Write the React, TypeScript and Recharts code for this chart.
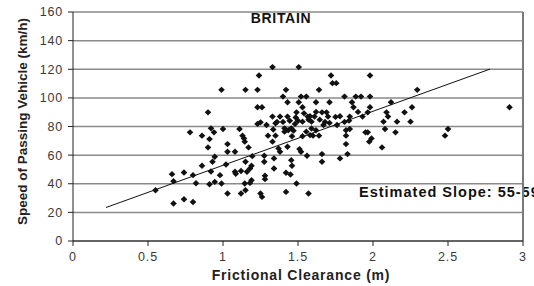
import { ScatterChart, Scatter, XAxis, YAxis, CartesianGrid, ReferenceLine } from 'recharts';

// readings: clearance (m) and speed (km/h), same order
const clearanceM = [
  0.55, 0.66, 0.67, 0.67, 0.74, 0.74, 0.8, 0.8, 0.82, 0.78,
  0.86, 0.86, 0.9, 0.9, 0.91, 0.92, 0.94, 0.945, 0.93, 0.92,
  0.91, 0.945, 0.98, 0.99, 0.99, 1.0, 1.02, 1.03, 1.03, 1.03,
  1.08, 1.08, 1.11, 1.12, 1.13, 1.14, 1.145, 1.15, 1.15, 1.145,
  1.15, 1.16, 1.17, 1.18, 1.19, 1.195, 1.19, 1.18, 1.23, 1.24,
  1.23, 1.26, 1.23, 1.25, 1.25, 1.26, 1.275, 1.275, 1.28, 1.28,
  1.29, 1.3, 1.33, 1.33, 1.33, 1.34, 1.34, 1.35, 1.37, 1.38,
  1.35, 1.38, 1.4, 1.42, 1.41, 1.41, 1.42, 1.42, 1.43, 1.43,
  1.43, 1.45, 1.455, 1.455, 1.46, 1.47, 1.48, 1.49, 1.49, 1.505,
  1.505, 1.51, 1.52, 1.52, 1.53, 1.53, 1.54, 1.555, 1.555, 1.56,
  1.57, 1.565, 1.59, 1.6, 1.61, 1.62, 1.64, 1.64, 1.66, 1.66,
  1.66, 1.67, 1.69, 1.7, 1.71, 1.72, 1.73, 1.755, 1.76, 1.78,
  1.81, 1.82, 1.82, 1.83, 1.84, 1.845, 1.845, 1.86, 1.87, 1.885,
  1.92, 1.93, 1.95, 1.965, 1.965, 1.98, 1.98, 1.98, 1.975, 1.99,
  2.06, 2.07, 2.08, 2.09, 2.1, 2.12, 2.15, 2.16, 2.21, 2.25,
  2.26, 2.295, 2.48, 2.5, 2.91,
  1.485, 1.58, 1.62, 1.75, 1.78, 1.9,
  1.36, 1.4, 1.445, 1.5, 1.57, 1.645, 1.68, 1.71, 1.81,
  1.335, 1.435, 1.59, 1.62, 1.82,
  1.46, 1.53, 1.58, 1.12, 1.085,
];

const speedKmh = [
  35.5, 46.7, 41.8, 26.2, 29.2, 47.9, 27.3, 46.0, 40.4, 75.9,
  73.6, 52.6, 89.9, 65.4, 71.2, 78.7, 75.9, 58.9, 55.4, 48.6,
  39.7, 41.3, 46.0, 40.2, 105.6, 78.3, 53.5, 67.7, 62.4, 33.2,
  62.4, 48.4, 78.3, 33.2, 73.6, 71.7, 69.4, 105.6, 55.4, 40.2,
  35.5, 48.4, 65.4, 50.7, 52.6, 59.3, 42.5, 40.6, 105.6, 115.6,
  93.4, 93.4, 81.8, 82.9, 33.2, 30.8, 59.6, 55.4, 45.6, 43.2,
  81.1, 73.6, 86.9, 121.5, 69.4, 57.7, 50.7, 73.6, 64.7, 62.4,
  82.2, 86.9, 100.9, 105.6, 78.7, 76.4, 34.3, 47.7, 86.9, 96.9,
  65.9, 46.5, 78.7, 56.5, 52.6, 77.1, 81.8, 89.9, 40.2, 121.5,
  96.9, 64.2, 62.4, 100.9, 93.4, 83.4, 89.2, 100.9, 76.4, 59.6,
  33.2, 86.9, 83.4, 73.6, 86.9, 96.9, 73.6, 105.6, 89.9, 55.4,
  60.7, 81.1, 89.9, 86.9, 96.9, 115.6, 110.3, 110.3, 81.1, 57.7,
  100.9, 73.6, 67.7, 60.7, 84.1, 86.9, 78.3, 96.9, 93.4, 100.9,
  100.9, 86.9, 75.9, 75.9, 89.9, 115.6, 100.9, 93.4, 69.4, 71.7,
  65.4, 83.4, 78.3, 89.9, 86.9, 96.9, 75.9, 83.4, 89.9, 83.4,
  93.4, 105.6, 73.6, 78.3, 93.4,
  86.3, 87.2, 90.2, 86.7, 87.2, 90.2,
  83.2, 83.2, 84.0, 84.0, 84.8, 84.8, 83.2, 82.5, 83.2,
  77.9, 77.4, 78.6, 77.4, 77.4,
  73.2, 73.2, 74.0, 48.9, 47.0,
];

// fitted line, end points
const trendX = [0.22, 2.78];
const trendY = [23.4, 120.1];

const xTicks = [0, 0.5, 1, 1.5, 2, 2.5, 3];
const yTicks = [0, 20, 40, 60, 80, 100, 120, 140, 160];

const points = clearanceM.map((x, i) => ({ x, y: speedKmh[i] }));
const trend = trendX.map((x, i) => ({ x, y: trendY[i] }));

const FONT = '"Liberation Sans", Arial, sans-serif';

function Diamond(props: any) {
  const { cx, cy } = props;
  if (cx == null || cy == null) return <g />;
  return (
    <polygon
      points={`${cx},${cy - 3.2} ${cx + 3.3},${cy} ${cx},${cy + 3.2} ${cx - 3.3},${cy}`}
      fill="#111"
    />
  );
}

function YTitle(props: any) {
  const vb = props.viewBox || { x: 0, y: 12, width: 73, height: 229 };
  const x = vb.x + 22;
  const y = vb.y + vb.height / 2 - 5;
  return (
    <text
      x={x}
      y={y}
      transform={`rotate(-90, ${x}, ${y})`}
      textAnchor="middle"
      dominantBaseline="central"
      style={{ fontFamily: FONT, fontSize: 13.5, fontWeight: 'bold', fill: '#222' }}
    >
      Speed of Passing Vehicle (km/h)
    </text>
  );
}

const tickStyle = { fontSize: 12.5, fill: '#3a3a3a', fontFamily: FONT, letterSpacing: '0.8px' };

export default function App() {
  return (
    <div style={{ width: 534, height: 286, background: '#fff' }}>
      <style>{'body{margin:0}'}</style>
      <ScatterChart width={534} height={286} margin={{ top: 12, right: 11, bottom: 0, left: 0 }}>
        <CartesianGrid vertical={false} stroke="#8a8a8a" strokeWidth={1.5} />
        <ReferenceLine x={xTicks[xTicks.length - 1]} stroke="#7a7a7a" strokeWidth={2} />
        <XAxis
          dataKey="x"
          type="number"
          domain={[0, 3]}
          ticks={xTicks}
          interval={0}
          height={45}
          tickSize={5}
          tickMargin={6}
          axisLine={{ stroke: '#222' }}
          tickLine={{ stroke: '#222' }}
          tick={tickStyle}
          label={{
            value: 'Frictional Clearance (m)',
            position: 'insideBottom',
            offset: 6,
            dx: 3,
            style: { fontFamily: FONT, fontSize: 14, fontWeight: 'bold', fill: '#222', letterSpacing: '0.8px' },
          }}
        />
        <YAxis
          dataKey="y"
          type="number"
          domain={[0, 160]}
          ticks={yTicks}
          interval={0}
          width={73}
          tickSize={5}
          tickMargin={5}
          axisLine={{ stroke: '#222' }}
          tickLine={{ stroke: '#222' }}
          tick={tickStyle}
          label={{ content: (p: any) => <YTitle {...p} /> }}
        />
        <Scatter data={points} shape={Diamond} isAnimationActive={false} />
        <Scatter
          data={trend}
          line={{ stroke: '#111', strokeWidth: 1 }}
          shape={() => <g />}
          isAnimationActive={false}
        />
        <text
          x={281}
          y={23}
          textAnchor="middle"
          style={{ fontFamily: FONT, fontSize: 14, fontWeight: 'bold', fill: '#111', letterSpacing: '0.7px' }}
        >
          BRITAIN
        </text>
        <text
          x={359}
          y={197}
          style={{ fontFamily: FONT, fontSize: 14.5, fontWeight: 'bold', fill: '#111', letterSpacing: '1px' }}
        >
          Estimated Slope: 55-59
        </text>
      </ScatterChart>
    </div>
  );
}
